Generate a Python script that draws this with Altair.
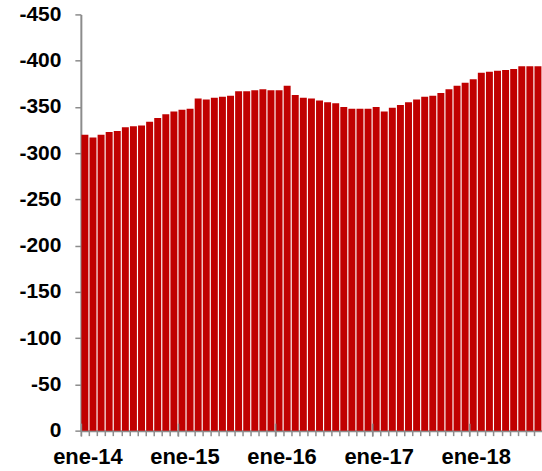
import altair as alt
import pandas as pd

# Monthly values, Jan-2014 .. Sep-2018
months_es = ["ene", "feb", "mar", "abr", "may", "jun",
             "jul", "ago", "sep", "oct", "nov", "dic"]
years = [14, 15, 16, 17, 18]
values = [
    -320, -317, -320, -323, -324, -328, -329, -330, -334, -338, -342, -345,   # 2014
    -347, -348, -359, -358, -360, -361, -362, -367, -367, -368, -369, -368,   # 2015
    -368, -373, -363, -360, -359, -357, -355, -354, -350, -348, -348, -348,   # 2016
    -350, -345, -349, -352, -355, -358, -361, -362, -365, -369, -373, -376,   # 2017
    -380, -387, -388, -389, -390, -391, -394, -394, -394,                     # 2018
]
y_ticks = list(range(0, -451, -50))

labels = [f"{m}-{y}" for y in years for m in months_es][: len(values)]
df = pd.DataFrame({"mes": labels, "valor": values})
jan = pd.DataFrame({"mes": [l for l in labels if l.startswith("ene")]})

W, H = 462, 417
RED = "#C00000"
GREY = "#8c8c8c"
FONT = "Liberation Sans"

x_enc = alt.X(
    "mes:N",
    sort=labels,
    scale=alt.Scale(paddingInner=0.14, paddingOuter=0.07),
    axis=alt.Axis(
        title=None,
        bandPosition=0,
        labelExpr="indexof(datum.label, 'ene') == 0 ? datum.label : ''",
        labelAngle=0,
        labelOffset=3,
        labelFont=FONT,
        labelFontWeight="bold",
        labelFontSize=22,
        labelColor="black",
        labelPadding=11,
        labelOverlap=False,
        tickColor=GREY,
        tickSize=5,
        tickWidth=1.5,
        domainColor=GREY,
        domainWidth=2,
    ),
)

bars = alt.Chart(df).mark_bar(color=RED).encode(
    x=x_enc,
    y=alt.Y(
        "valor:Q",
        scale=alt.Scale(domain=[-450, 0], reverse=True, nice=False),
        axis=alt.Axis(
            title=None,
            values=y_ticks,
            labelExpr="datum.value == 0 ? '0' : '-' + abs(datum.value)",
            labelFont=FONT,
            labelFontWeight="bold",
            labelFontSize=21,
            labelColor="black",
            labelPadding=14,
            tickColor=GREY,
            tickSize=6,
            tickWidth=1.5,
            domainColor=GREY,
            domainWidth=2,
            grid=False,
        ),
    ),
)

# Year separators crossing the category axis
year_ticks = alt.Chart(jan).mark_rule(color=GREY, strokeWidth=1.5).encode(
    x=alt.X("mes:N", sort=labels, bandPosition=0),
    y=alt.value(H - 7),
    y2=alt.value(H + 6),
)

chart = (
    alt.layer(bars, year_ticks)
    .properties(
        width=W,
        height=H,
        background="white",
        padding={"left": 81, "top": 14, "right": 0, "bottom": 40},
        autosize=alt.AutoSizeParams(type="none"),
    )
    .configure_view(stroke=None, strokeWidth=0)
)

chart.save("out.html", embed_options={"renderer": "svg", "actions": False})
